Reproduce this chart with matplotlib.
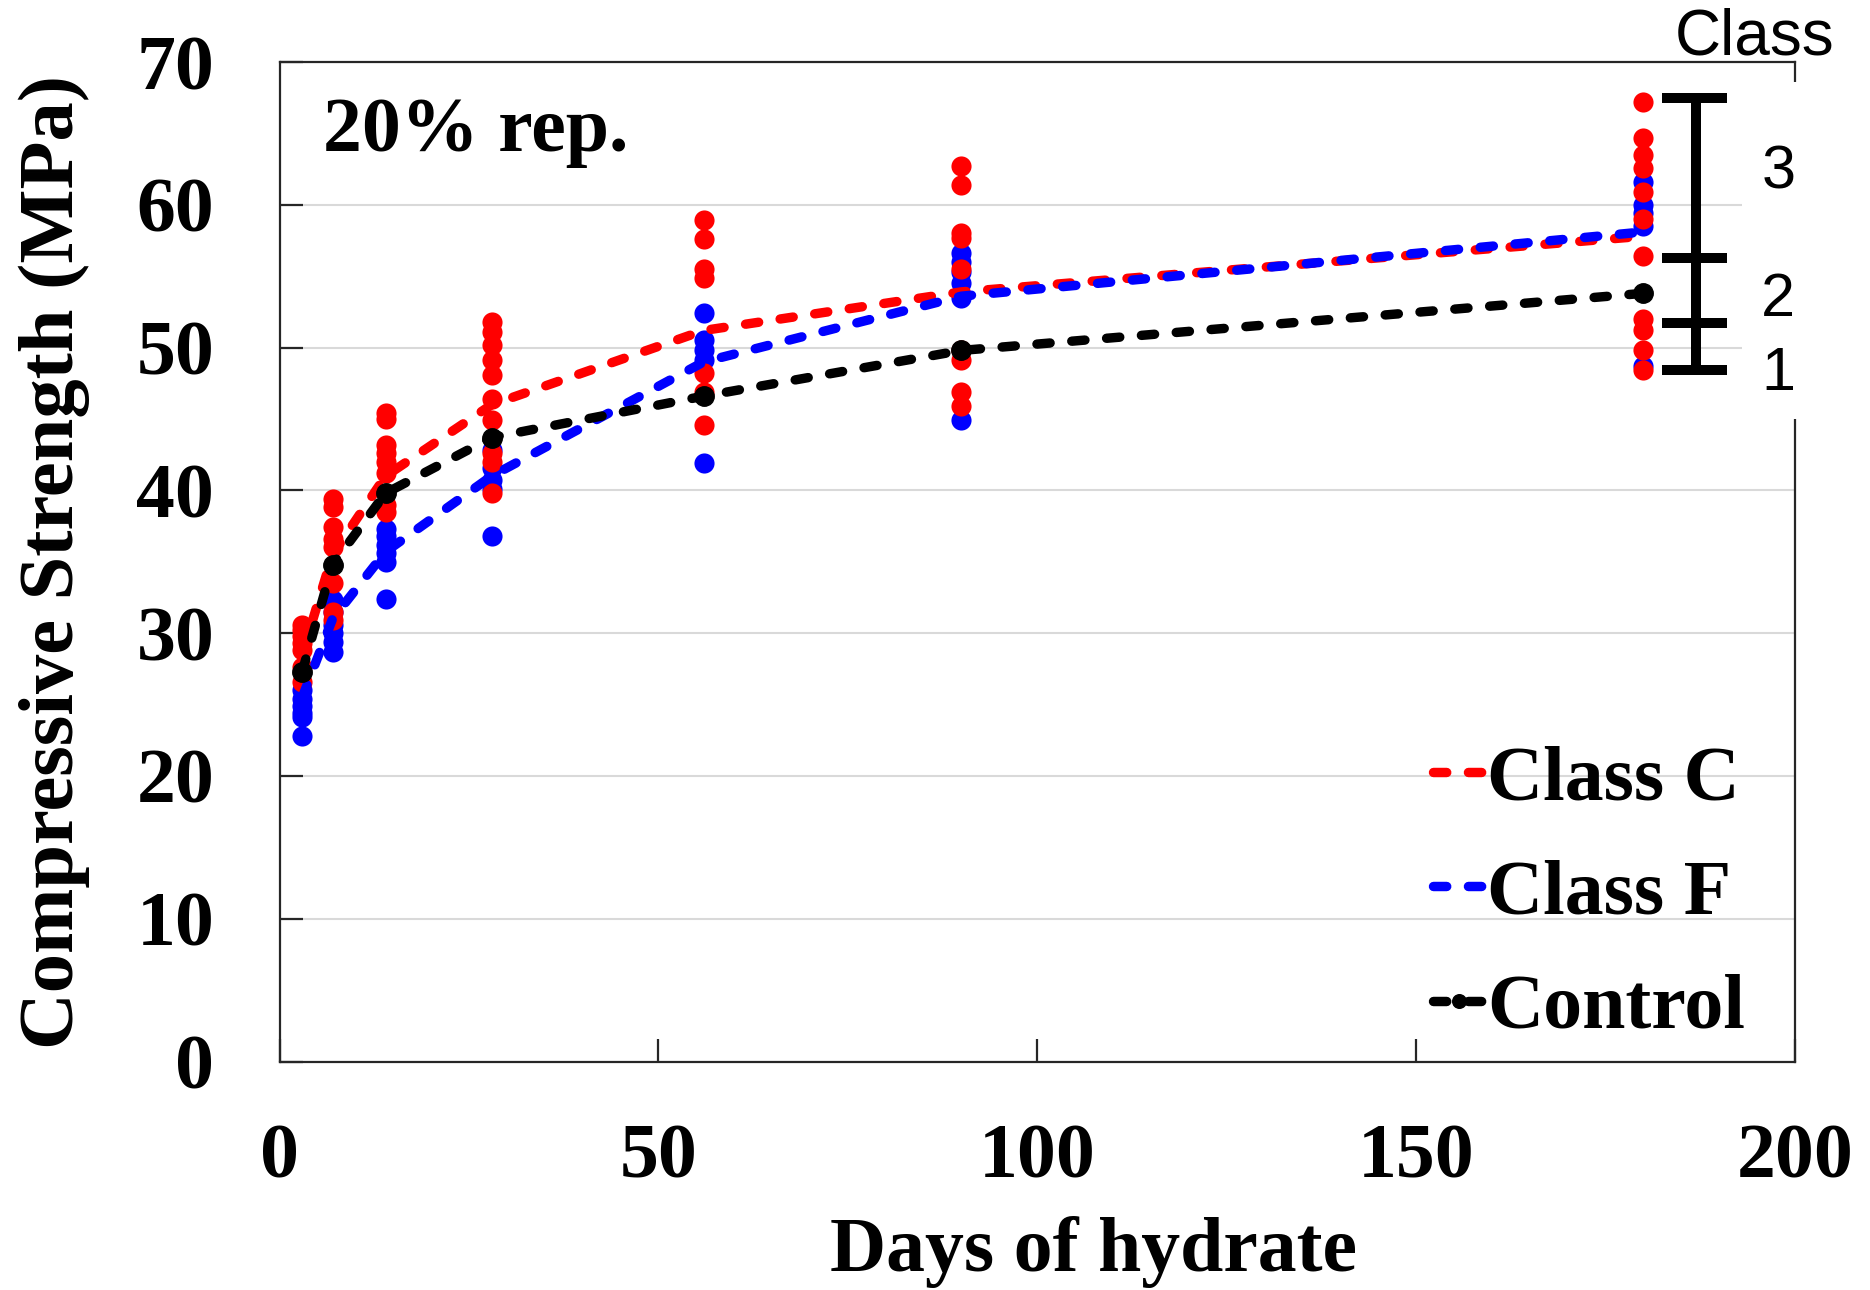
import matplotlib
matplotlib.use("Agg")
import matplotlib.pyplot as plt
from matplotlib.patches import Rectangle

# ---------------- data ----------------
days = [3, 7, 14, 28, 56, 90, 180]

# individual mixes (scatter)
classC_pts = {
    3:   [30.6, 30.2, 29.8, 29.3, 28.8, 27.6, 26.6],
    7:   [39.4, 38.8, 37.4, 36.6, 36.0, 33.5, 31.5, 30.9],
    14:  [45.4, 45.0, 43.2, 42.6, 42.0, 41.2, 39.0, 38.5],
    28:  [51.8, 51.1, 50.2, 49.1, 48.1, 46.4, 44.9, 42.6, 42.0, 39.8],
    56:  [58.9, 57.6, 55.5, 54.9, 48.2, 46.9, 44.6],
    90:  [62.7, 61.4, 58.0, 57.7, 55.5, 49.8, 49.1, 46.9, 45.9],
    180: [67.2, 64.7, 63.5, 62.6, 60.9, 59.0, 56.4, 52.0, 51.2, 49.8, 48.4],
}
classF_pts = {
    3:   [26.0, 25.4, 24.9, 24.4, 24.1, 22.8],
    7:   [32.3, 31.5, 30.6, 30.0, 29.4, 28.7],
    14:  [37.3, 36.8, 36.2, 35.6, 35.0, 32.4],
    28:  [42.8, 41.6, 40.7, 40.1, 36.8],
    56:  [52.4, 50.5, 49.8, 49.1, 41.9],
    90:  [56.6, 56.0, 55.3, 54.5, 53.5, 44.9],
    180: [61.6, 60.0, 59.4, 58.5, 48.7],
}

# averages (lines)
classC_mean = [28.5, 35.5, 41.0, 46.0, 51.2, 53.9, 57.8]
classF_mean = [25.5, 31.0, 35.7, 41.0, 49.0, 53.6, 58.1]
control     = [27.3, 34.8, 39.8, 43.7, 46.6, 49.8, 53.8]

# strength class limits (bracket)
class_limits = [48.4, 51.7, 56.25, 67.5]
class_names = ["1", "2", "3"]

xticks = [0, 50, 100, 150, 200]
yticks = [0, 10, 20, 30, 40, 50, 60, 70]

# ---------------- style ----------------
W, H = 1870, 1290
SERIF = ["Liberation Serif", "DejaVu Serif"]
SANS = ["Liberation Sans", "DejaVu Sans"]
RED = "#FF0000"
BLUE = "#0000FF"

fig = plt.figure(figsize=(W / 100, H / 100), dpi=100)
left, right, bottom, top = 279.5, 1795, 1061.5, 62
ax = fig.add_axes([left / W, 1 - bottom / H, (right - left) / W, (bottom - top) / H])

ax.set_xlim(0, 200)
ax.set_ylim(0, 70)
ax.set_xticks(xticks)
ax.set_yticks(yticks)
ax.grid(axis="y", color="#D9D9D9", linewidth=1.5)
ax.set_axisbelow(True)
for s in ax.spines.values():
    s.set_linewidth(1.6)
    s.set_color("#262626")

ax.tick_params(direction="in", length=16.5, width=1.6, color="#262626",
               labelsize=56, top=False, right=False)
ax.tick_params(axis="x", pad=45)
ax.tick_params(axis="y", pad=47)
for lab in ax.get_xticklabels() + ax.get_yticklabels():
    lab.set_family(SERIF)
    lab.set_fontweight("bold")

# scatter points
ms = 210
for d in days:
    ax.scatter([d] * len(classF_pts[d]), classF_pts[d], s=ms, color=BLUE,
               linewidths=0, zorder=3)
for d in days:
    ax.scatter([d] * len(classC_pts[d]), classC_pts[d], s=ms, color=RED,
               linewidths=0, zorder=3.1)

dash = (0, (1.4, 2.3))
lw = 6.8
ax.plot(days, classC_mean, color=RED, lw=lw, linestyle=dash,
        dash_capstyle="round", zorder=4, label="Class C")
ax.plot(days, classF_mean, color=BLUE, lw=lw, linestyle=dash,
        dash_capstyle="round", zorder=4.1, label="Class F")
ax.plot(days, control, color="black", lw=lw, linestyle=dash,
        dash_capstyle="round", marker="o", markersize=14, zorder=4.2,
        label="Control")

ax.set_xlabel("Days of hydrate", fontsize=56, fontweight="bold", family=SERIF)
ax.xaxis.set_label_coords(0.537, -0.155)
ax.set_ylabel("Compressive Strength (MPa)", fontsize=56.5, fontweight="bold",
              family=SERIF)
ax.yaxis.set_label_coords(-0.125, 0.5)

ax.text(0.029, 0.911, "20% rep.", transform=ax.transAxes, fontsize=56,
        fontweight="bold", family=SERIF, ha="left", va="baseline")

leg = ax.legend(loc="upper left", bbox_to_anchor=(1433 / W, 1 - 745 / H),
                bbox_transform=fig.transFigure, frameon=False,
                prop={"family": SERIF, "weight": "bold", "size": 56},
                handlelength=0.67, handletextpad=0.03, labelspacing=0.55,
                borderpad=0, borderaxespad=0, markerscale=0.7)

# white box covering the right part (class annotation panel)
ax.add_patch(Rectangle((1742 / W, 1 - 419 / H), (W - 1742) / W, (419 - 82) / H,
                       transform=fig.transFigure, facecolor="white",
                       edgecolor="none", clip_on=False, zorder=2.6))

# class bracket
xb = 186.9
ax.plot([xb, xb], [class_limits[0], class_limits[-1]], color="black", lw=7.2,
        solid_capstyle="butt", clip_on=False, zorder=5)
for yl in class_limits:
    ax.plot([182.5, 191.0], [yl, yl], color="black", lw=7.2,
            solid_capstyle="butt", clip_on=False, zorder=5)
name_y = [48.1, 53.3, 62.2]
for nm, yy in zip(class_names, name_y):
    ax.text(197.8, yy, nm, fontsize=44, family=SANS, ha="center", va="center",
            clip_on=False, zorder=6)
ax.text(194.6, 71.7, "Class", fontsize=46, family=SANS, ha="center",
        va="center", clip_on=False, zorder=6)

fig.savefig("out.png", dpi=100)
